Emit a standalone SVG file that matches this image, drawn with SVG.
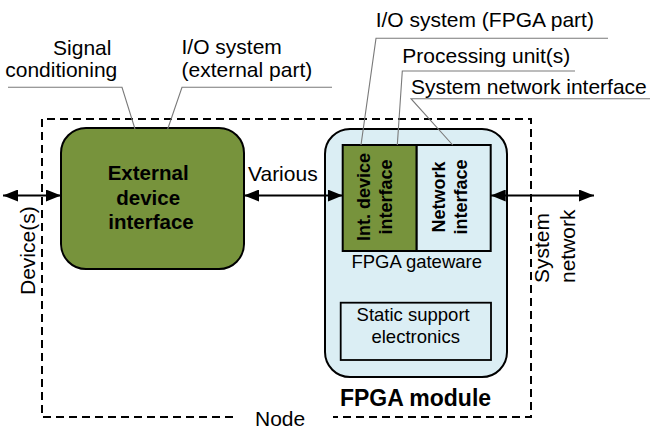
<svg xmlns="http://www.w3.org/2000/svg" width="650" height="429" viewBox="0 0 650 429">
  <style>
    .lbl { font-family: "Liberation Sans", Arial, sans-serif; font-size: 21px; fill: #000; }
    .small { font-family: "Liberation Sans", Arial, sans-serif; font-size: 18.5px; fill: #000; }
    .bold { font-family: "Liberation Sans", Arial, sans-serif; font-weight: bold; fill: #000; }
    .leader { fill: none; stroke: #7a7a7a; stroke-width: 1.1; }
    .conn { fill: none; stroke: #000; stroke-width: 2; marker-start: url(#arrow); marker-end: url(#arrow); }
    .box { stroke: #000; stroke-width: 2; }
    .green { fill: #77933c; }
    .blue { fill: #dbeef4; }
  </style>
  <defs>
    <marker id="arrow" markerUnits="userSpaceOnUse" markerWidth="15" markerHeight="12" refX="15" refY="6" orient="auto-start-reverse">
      <path d="M0,0 L15,6 L0,12 z" fill="#000"/>
    </marker>
  </defs>

  <rect width="650" height="429" fill="#fff"/>

  <!-- Node boundary (dashed), open at the bottom for its label -->
  <g id="node">
    <path d="M233,417 H42 V119 H531 V417 H333" fill="none" stroke="#000" stroke-width="2" stroke-dasharray="8,5"/>
    <text class="lbl" x="255" y="426">Node</text>
  </g>

  <!-- External device interface -->
  <g id="external-device-interface">
    <rect class="box green" x="61" y="128" width="183" height="141" rx="25" ry="25"/>
    <text class="bold" font-size="20.5" text-anchor="middle">
      <tspan x="151" y="180">External</tspan>
      <tspan x="151" y="204.5">device</tspan>
      <tspan x="151" y="229">interface</tspan>
    </text>
  </g>

  <!-- FPGA module -->
  <g id="fpga-module">
    <rect class="box blue" x="325" y="129" width="182" height="248" rx="25" ry="25"/>
    <text class="bold" font-size="23" x="415.5" y="406" text-anchor="middle">FPGA module</text>
  </g>

  <!-- FPGA gateware: internal device interface + network interface -->
  <g id="fpga-gateware">
    <rect class="box green" x="342.7" y="145" width="74" height="106"/>
    <rect class="box blue" x="416.7" y="145" width="74" height="106"/>
    <text class="bold" font-size="18" text-anchor="middle" transform="translate(370,197) rotate(-90)">Int. device</text>
    <text class="bold" font-size="18" text-anchor="middle" transform="translate(391.5,197) rotate(-90)">interface</text>
    <text class="bold" font-size="18" text-anchor="middle" transform="translate(445,197) rotate(-90)">Network</text>
    <text class="bold" font-size="18" text-anchor="middle" transform="translate(466.5,197) rotate(-90)">interface</text>
    <text class="small" x="416.7" y="268" text-anchor="middle">FPGA gateware</text>
  </g>

  <!-- Static support electronics -->
  <g id="static-support">
    <rect x="340.7" y="302.7" width="150.3" height="57.3" fill="none" stroke="#000" stroke-width="1.8"/>
    <text class="small" text-anchor="middle">
      <tspan x="415.7" y="321">Static support</tspan>
      <tspan x="415.7" y="343">electronics</tspan>
    </text>
  </g>

  <!-- Connectors -->
  <g id="connectors">
    <line class="conn" x1="3" y1="195.5" x2="61" y2="195.5"/>
    <line class="conn" x1="244" y1="195.5" x2="342.7" y2="195.5"/>
    <line class="conn" x1="490.7" y1="195.5" x2="594" y2="195.5"/>
    <text class="lbl" x="248" y="181">Various</text>
    <text class="lbl" transform="translate(35,295) rotate(-90)">Device(s)</text>
    <text class="lbl" transform="translate(549,283) rotate(-90)">System</text>
    <text class="lbl" transform="translate(575,283) rotate(-90)">network</text>
  </g>

  <!-- Callout labels with leader lines -->
  <g id="callouts">
    <polyline class="leader" points="8,87.3 122,87.3 135,129"/>
    <text class="lbl" text-anchor="end">
      <tspan x="117.3" y="55">Signal</tspan>
      <tspan x="117.3" y="77">conditioning</tspan>
    </text>

    <polyline class="leader" points="332,87.3 182,87.3 167.7,129"/>
    <text class="lbl">
      <tspan x="181.5" y="54">I/O system</tspan>
      <tspan x="181.5" y="76.5">(external part)</tspan>
    </text>

    <polyline class="leader" points="608,38.3 376,38.3 361,145"/>
    <text class="lbl" x="375.7" y="26.7">I/O system (FPGA part)</text>

    <polyline class="leader" points="575,71 402.3,71 397.3,145"/>
    <text class="lbl" x="402.3" y="63.3">Processing unit(s)</text>

    <polyline class="leader" points="650,98.7 411,98.7 452.7,145"/>
    <text class="lbl" x="411" y="94">System network interface</text>
  </g>
</svg>
